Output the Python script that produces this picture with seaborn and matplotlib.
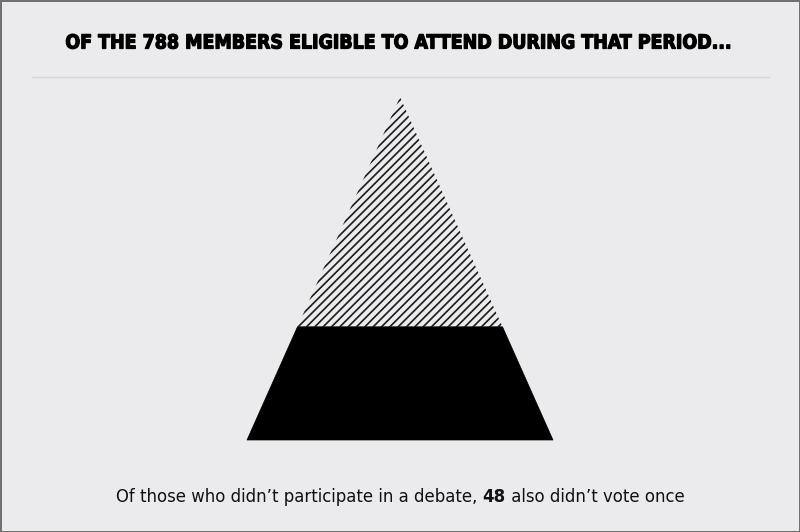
import matplotlib
matplotlib.use("Agg")
import matplotlib.pyplot as plt
import matplotlib.patheffects as pe
import seaborn as sns

# data
total_members = 788
tier_labels = ["Eligible members", "Did not participate in a debate"]
tier_height_share = [0.67, 0.33]   # share of the pyramid height, top to bottom
highlight_value = 48

title_text = f"OF THE {total_members} MEMBERS ELIGIBLE TO ATTEND DURING THAT PERIOD..."
note_before = "Of those who didn\u2019t participate in a debate, "
note_bold = f"{highlight_value}"
note_after = " also didn\u2019t vote once"

BG = "#ebebed"

sns.set_theme(style="white")
plt.rcParams["hatch.linewidth"] = 1.2
plt.rcParams["font.family"] = ["DejaVu Sans"]

W, H = 800, 532
fig = plt.figure(figsize=(W / 100, H / 100), dpi=100)
fig.patch.set_facecolor(BG)
fig.patch.set_edgecolor("#707070")
fig.patch.set_linewidth(2)

ax = fig.add_axes([0, 0, 1, 1])
ax.set_facecolor(BG)
ax.set_xlim(0, W)
ax.set_ylim(H, 0)
ax.axis("off")

# pyramid layout (pixels)
apex_x, apex_y = 400, 97
base_y, half_base = 440, 153
height = base_y - apex_y

y_top = apex_y
for label, share in zip(tier_labels, tier_height_share):
    y_bot = y_top + share * height
    w_top = half_base * (y_top - apex_y) / height
    w_bot = half_base * (y_bot - apex_y) / height
    xs = [apex_x - w_top, apex_x + w_top, apex_x + w_bot, apex_x - w_bot]
    ys = [y_top, y_top, y_bot, y_bot]
    if label == tier_labels[0]:
        ax.fill(xs, ys, facecolor="none", edgecolor="#1a1a1a", hatch="////", linewidth=0)
    else:
        ax.fill(xs, ys, facecolor="black", edgecolor="black", linewidth=0.5)
    y_top = y_bot

# separator under title
ax.plot([32, 769], [76.5, 76.5], color="#d6d6d8", linewidth=1)

fig.canvas.draw()
r = fig.canvas.get_renderer()


def fit_size(s, target_w, **kw):
    t = ax.text(0, 0, s, fontsize=10, **kw)
    w = t.get_window_extent(r).width
    t.remove()
    return 10 * target_w / w


# title
tkw = dict(fontweight="heavy", fontstretch="condensed")
tsize = fit_size(title_text, 664, **tkw)
ax.text(400, 48.5, title_text, ha="center", va="baseline", fontsize=tsize,
        color="black", path_effects=[pe.withStroke(linewidth=0.9, foreground="black")], **tkw)

# bottom note with bold number
kw = dict(va="baseline", fontstretch="condensed", color="#111111")
nsize = fit_size(note_before + note_bold + note_after, 566, **kw)
parts = [(note_before, "normal"), (note_bold, "bold"), (note_after, "normal")]
tmp = [ax.text(0, 0, s, fontweight=fw, fontsize=nsize, **kw) for s, fw in parts]
widths = [t.get_window_extent(r).width for t in tmp]
for t in tmp:
    t.remove()
x = W / 2 - sum(widths) / 2
for (s, fw), w in zip(parts, widths):
    ax.text(x, 502.5, s, fontweight=fw, fontsize=nsize, **kw)
    x += w

fig.savefig("out.png", dpi=100, facecolor=fig.get_facecolor(), edgecolor=fig.get_edgecolor())
